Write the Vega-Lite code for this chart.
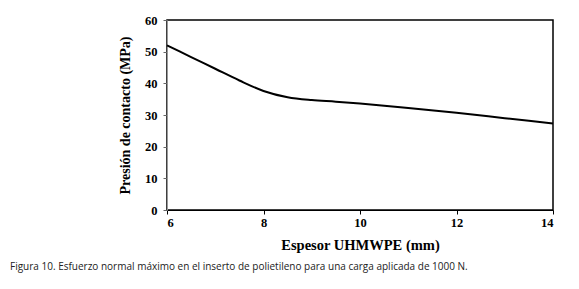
{
  "$schema": "https://vega.github.io/schema/vega-lite/v6.json",
  "autosize": "none",
  "width": 386,
  "height": 190,
  "padding": {"left": 167, "top": 20, "right": 26, "bottom": 79},
  "background": "white",
  "data": {"values": [
    {"t": 6, "p": 52},
    {"t": 6.5, "p": 48.3},
    {"t": 7, "p": 44.6},
    {"t": 7.5, "p": 40.9},
    {"t": 8, "p": 37.6},
    {"t": 8.5, "p": 35.6},
    {"t": 9, "p": 34.7},
    {"t": 9.5, "p": 34.2},
    {"t": 10, "p": 33.6},
    {"t": 11, "p": 32.2},
    {"t": 12, "p": 30.7},
    {"t": 13, "p": 29},
    {"t": 14, "p": 27.3}
  ]},
  "title": {
    "text": "Figura 10. Esfuerzo normal máximo en el inserto de polietileno para una carga aplicada de 1000 N.",
    "orient": "bottom",
    "anchor": "start",
    "frame": "group",
    "dx": -157,
    "offset": 10,
    "font": "Open Sans",
    "fontSize": 10,
    "fontWeight": "normal",
    "color": "#222"
  },
  "mark": {"type": "line", "interpolate": "monotone", "color": "black", "strokeWidth": 2},
  "encoding": {
    "x": {
      "field": "t", "type": "quantitative",
      "scale": {"domain": [6, 14], "nice": false},
      "axis": {
        "values": [6, 8, 10, 12, 14],
        "title": "Espesor  UHMWPE (mm)",
        "grid": false,
        "domainColor": "black",
        "tickColor": "black",
        "tickSize": 4,
        "labelFont": "Liberation Serif",
        "labelFontWeight": "bold",
        "labelFontSize": 12.5,
        "labelColor": "black",
        "titleFont": "Liberation Serif",
        "titleFontWeight": "bold",
        "titleFontSize": 14.5,
        "titleColor": "black",
        "titlePadding": 10
      }
    },
    "y": {
      "field": "p", "type": "quantitative",
      "scale": {"domain": [0, 60], "nice": false},
      "axis": {
        "values": [0, 10, 20, 30, 40, 50, 60],
        "title": "Presión de contacto (MPa)",
        "grid": false,
        "domainColor": "#999",
        "tickColor": "#666",
        "tickSize": 4,
        "labelFont": "Liberation Serif",
        "labelFontWeight": "bold",
        "labelFontSize": 12.5,
        "labelColor": "black",
        "labelPadding": 6,
        "titleFont": "Liberation Serif",
        "titleFontWeight": "bold",
        "titleFontSize": 14,
        "titleColor": "black",
        "titlePadding": 12
      }
    }
  },
  "config": {
    "view": {"stroke": "black", "strokeWidth": 1.5}
  }
}
